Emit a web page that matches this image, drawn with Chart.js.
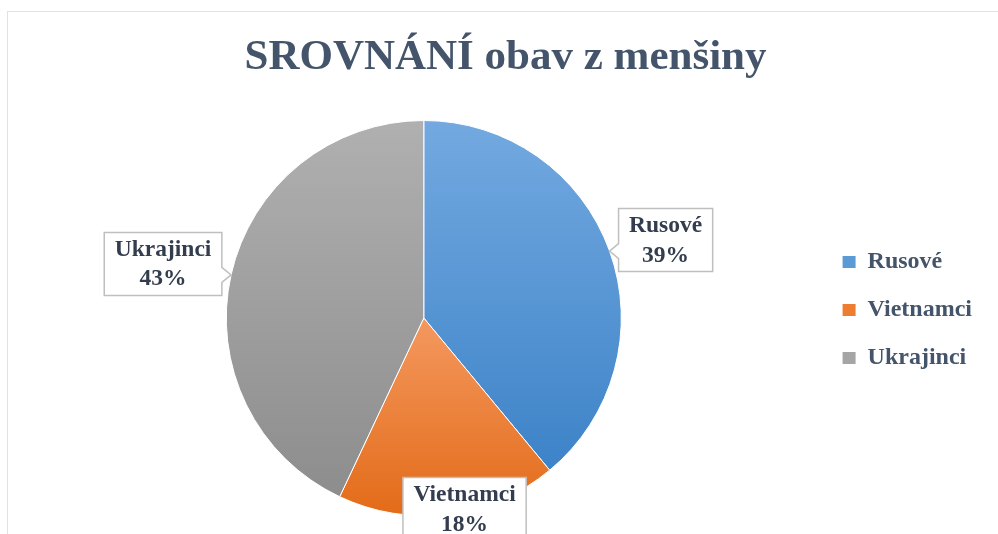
<!DOCTYPE html>
<html>
<head>
<meta charset="utf-8">
<script src="https://cdn.jsdelivr.net/npm/chart.js@4"></script>
<style>
	html, body {margin: 0; padding: 0; width: 998px; height: 534px; overflow: hidden; background: #fff;}
	#frame {position: absolute; left: 7px; top: 11px; border-top: 1px solid #dce3ea; border-left: 1px solid #dce3ea;}
	canvas {display: block;}
</style>
</head>
<body>
<div id="frame"><canvas id="chart" width="998" height="540"></canvas></div>
<script>
const TITLE = 'SROVNÁNÍ obav z menšiny';
const LABELS = ['Rusové', 'Vietnamci', 'Ukrajinci'];
const VALUES = [39, 18, 43];

const FONT = '"Liberation Serif", "Times New Roman", serif';
const BASE_COLORS = ['#5b9bd5', '#ed7d31', '#a5a5a5'];
const GRADIENTS = [
	['#73a9e0', '#3d83c8'],
	['#f4985f', '#e36b18'],
	['#b0b0b0', '#8d8d8d']
];
// posun středu popisku od bodu na obvodu výseče
const LABEL_SHIFT = [[56, -11], [16, -5], [-68, -11]];

// vertikální gradient přes ohraničení každé výseče
function sliceGradient(ctx) {
	const chart = ctx.chart;
	const area = chart.chartArea;
	const i = ctx.dataIndex;
	if (!area) return BASE_COLORS[i];
	const cx = (area.left + area.right) / 2;
	const cy = (area.top + area.bottom) / 2;
	const r = Math.min(area.width, area.height) / 2;
	const total = VALUES.reduce((a, b) => a + b, 0);
	let a0 = -Math.PI / 2;
	for (let k = 0; k < i; k++) a0 += VALUES[k] / total * Math.PI * 2;
	const a1 = a0 + VALUES[i] / total * Math.PI * 2;
	const ys = [cy, cy + r * Math.sin(a0), cy + r * Math.sin(a1)];
	const has = (a) => {
		for (let t = a; t < a1 + 7; t += Math.PI * 2) if (t >= a0 && t <= a1) return true;
		return false;
	};
	if (has(Math.PI / 2 - Math.PI * 2)) ys.push(cy + r);
	if (has(-Math.PI / 2 - Math.PI * 2)) ys.push(cy - r);
	const g = chart.ctx.createLinearGradient(0, Math.min(...ys), 0, Math.max(...ys));
	g.addColorStop(0, GRADIENTS[i][0]);
	g.addColorStop(1, GRADIENTS[i][1]);
	return g;
}

// popisky s bublinou
const calloutLabels = {
	id: 'calloutLabels',
	afterDatasetsDraw(chart) {
		const ctx = chart.ctx;
		const meta = chart.getDatasetMeta(0);
		const total = VALUES.reduce((a, b) => a + b, 0);
		ctx.save();
		ctx.font = `bold 23.5px ${FONT}`;
		meta.data.forEach((arc, i) => {
			const {x, y, startAngle, endAngle, outerRadius} = arc.getProps(['x', 'y', 'startAngle', 'endAngle', 'outerRadius'], true);
			const mid = (startAngle + endAngle) / 2;
			const tx = x + Math.cos(mid) * outerRadius;
			const ty = y + Math.sin(mid) * outerRadius;
			const lines = [LABELS[i], Math.round(VALUES[i] / total * 100) + '%'];
			const w = Math.max(...lines.map(l => ctx.measureText(l).width)) + 21;
			const h = 63;
			const cx = tx + LABEL_SHIFT[i][0];
			const cy = ty + LABEL_SHIFT[i][1];
			const l = cx - w / 2, r = cx + w / 2, t = cy - h / 2, b = cy + h / 2;
			const n = 7.5;
			const ny = Math.min(Math.max(ty, t + n + 2), b - n - 2);

			ctx.beginPath();
			ctx.moveTo(l, t);
			ctx.lineTo(r, t);
			if (tx > r) {
				ctx.lineTo(r, ny - n);
				ctx.lineTo(tx, ty);
				ctx.lineTo(r, ny + n);
			}
			ctx.lineTo(r, b);
			ctx.lineTo(l, b);
			if (tx < l) {
				ctx.lineTo(l, ny + n);
				ctx.lineTo(tx, ty);
				ctx.lineTo(l, ny - n);
			}
			ctx.closePath();
			ctx.fillStyle = '#ffffff';
			ctx.fill();
			ctx.lineWidth = 1.5;
			ctx.strokeStyle = '#bfbfbf';
			ctx.stroke();

			ctx.fillStyle = '#333d4e';
			ctx.textAlign = 'center';
			ctx.textBaseline = 'middle';
			ctx.fillText(lines[0], cx, cy - 13.9);
			ctx.fillText(lines[1], cx, cy + 15.5);
		});
		ctx.restore();
	}
};

// legenda posunutá dolů, ať sedí k obrázku
const legendNudge = {
	id: 'legendNudge',
	afterLayout(chart) {
		if (chart.legend) {
			chart.legend.top += 46;
			chart.legend.bottom += 46;
			chart.legend.left -= 2;
			chart.legend.right -= 2;
		}
	}
};

new Chart(document.getElementById('chart').getContext('2d'), {
	type: 'pie',
	data: {
		labels: LABELS,
		datasets: [{
			data: VALUES,
			backgroundColor: sliceGradient,
			borderColor: '#ffffff',
			borderWidth: 1
		}]
	},
	options: {
		responsive: false,
		animation: false,
		layout: {
			padding: {left: 19, right: 22, top: 0, bottom: 36}
		},
		plugins: {
			title: {
				display: true,
				text: TITLE,
				color: '#44546a',
				font: {family: FONT, size: 43, weight: 'bold', lineHeight: 1.2},
				padding: {top: 20, bottom: 36.4}
			},
			legend: {
				display: true,
				position: 'right',
				labels: {
					color: '#44546a',
					font: {family: FONT, size: 24, weight: 'bold'},
					boxWidth: 13,
					boxHeight: 12,
					padding: 24,
					generateLabels: function(chart) {
						return LABELS.map((text, i) => ({
							text,
							fillStyle: BASE_COLORS[i],
							strokeStyle: BASE_COLORS[i],
							lineWidth: 0,
							fontColor: '#44546a',
							hidden: false,
							index: i
						}));
					}
				}
			},
			tooltip: {enabled: false}
		}
	},
	plugins: [calloutLabels, legendNudge]
});
</script>
</body>
</html>
